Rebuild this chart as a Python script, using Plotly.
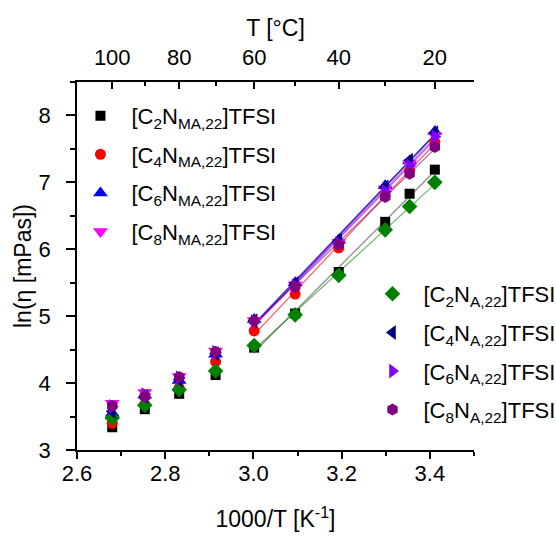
import numpy as np
import plotly.graph_objects as go

# Temperatures (°C) of the measurements
temp_c = [100, 90, 80, 70, 60, 50, 40, 30, 25, 20]
inv_t = [1000.0 / (t + 273.15) for t in temp_c]

names = [
    "[C<sub>2</sub>N<sub>MA,22</sub>]TFSI",
    "[C<sub>4</sub>N<sub>MA,22</sub>]TFSI",
    "[C<sub>6</sub>N<sub>MA,22</sub>]TFSI",
    "[C<sub>8</sub>N<sub>MA,22</sub>]TFSI",
    "[C<sub>2</sub>N<sub>A,22</sub>]TFSI",
    "[C<sub>4</sub>N<sub>A,22</sub>]TFSI",
    "[C<sub>6</sub>N<sub>A,22</sub>]TFSI",
    "[C<sub>8</sub>N<sub>A,22</sub>]TFSI",
]

c2_nma = [3.34, 3.61, 3.84, 4.12, 4.53, 5.04, 5.66, 6.41, 6.83, 7.19]
c4_nma = [3.40, 3.68, 3.93, 4.32, 4.78, 5.33, 6.02, 6.80, 7.18, 7.60]
c6_nma = [3.55, 3.82, 4.04, 4.43, 4.95, 5.50, 6.14, 6.95, 7.32, 7.76]
c8_nma = [3.70, 3.86, 4.10, 4.48, 4.93, 5.47, 6.10, 6.90, 7.28, 7.70]
c2_na = [3.48, 3.67, 3.90, 4.18, 4.56, 5.02, 5.61, 6.29, 6.64, 7.00]
c4_na = [3.58, 3.80, 4.05, 4.44, 4.93, 5.49, 6.13, 6.93, 7.33, 7.74]
c6_na = [3.65, 3.83, 4.08, 4.46, 4.92, 5.45, 6.09, 6.86, 7.25, 7.68]
c8_na = [3.66, 3.80, 4.09, 4.47, 4.93, 5.44, 6.07, 6.78, 7.13, 7.53]

series = [c2_nma, c4_nma, c6_nma, c8_nma, c2_na, c4_na, c6_na, c8_na]
colors = ["#000000", "#ff0000", "#0000ff", "#ff00ff",
          "#008000", "#000080", "#8000ff", "#800080"]
symbols = ["square", "circle", "triangle-up", "triangle-down",
           "diamond", "triangle-left", "triangle-right", "hexagon"]
sizes = [10, 11, 13, 13, 12, 13, 13, 12]
line_colors = ["rgba(0,0,0,0.45)", "rgba(255,0,0,0.6)", "rgba(0,0,255,0.7)",
               "rgba(255,0,255,0.7)", "rgba(0,128,0,0.55)", "rgba(0,0,128,0.6)",
               "rgba(128,0,255,0.6)", "rgba(128,0,128,0.6)"]

top_major = [100, 80, 60, 40, 20]
top_minor = [90, 70, 50, 30]

FONT = "Liberation Sans, Arial, sans-serif"

fig = go.Figure()

# fitted lines (60 °C .. 20 °C)
fit_x = np.array(inv_t[4:])
for ys, lc in zip(series, line_colors):
    k, b = np.polyfit(fit_x, np.array(ys[4:]), 1)
    xx = [fit_x.min(), fit_x.max()]
    fig.add_trace(go.Scatter(x=xx, y=[k * v + b for v in xx], mode="lines",
                             line=dict(color=lc, width=1.3), showlegend=False,
                             hoverinfo="skip"))

for i, (ys, nm, col, sym, sz) in enumerate(zip(series, names, colors, symbols, sizes)):
    fig.add_trace(go.Scatter(
        x=inv_t, y=ys, mode="markers", name=nm,
        marker=dict(symbol=sym, color=col, size=sz, line=dict(width=0)),
        legend="legend" if i < 4 else "legend2",
        legendgroup=f"g{i}",
    ))

# invisible trace to activate the top axis
top_pos = [1000.0 / (t + 273.15) for t in top_major]
fig.add_trace(go.Scatter(x=top_pos, y=[5] * len(top_pos), xaxis="x2", mode="markers",
                         marker=dict(opacity=0), showlegend=False, hoverinfo="skip"))

legend_common = dict(font=dict(family=FONT, size=22, color="black"),
                     bgcolor="rgba(0,0,0,0)", tracegroupgap=7, itemwidth=52,
                     xanchor="left", yanchor="top", itemsizing="trace")

fig.update_layout(
    template="none",
    width=556, height=536,
    margin=dict(l=77, r=82, t=82, b=86, autoexpand=False),
    paper_bgcolor="white", plot_bgcolor="white",
    font=dict(family=FONT, size=22, color="black"),
    xaxis=dict(range=[2.6, 3.5], tickvals=[2.6, 2.8, 3.0, 3.2, 3.4],
               ticktext=["2.6", "2.8", "3.0", "3.2", "3.4"],
               ticks="outside", ticklen=7, tickwidth=1.5, tickcolor="black",
               ticklabelstandoff=-4,
               minor=dict(tickvals=[2.7, 2.9, 3.1, 3.3, 3.5], ticks="outside",
                          ticklen=4, tickwidth=1.5, tickcolor="black"),
               showline=True, linecolor="black", linewidth=1.5,
               showgrid=False, zeroline=False, automargin=False,
               title=dict(text="1000/T [K<sup>-1</sup>]", standoff=26,
                          font=dict(size=23))),
    xaxis2=dict(overlaying="x", side="top", range=[2.6, 3.5],
                tickvals=top_pos, ticktext=[str(t) for t in top_major],
                ticks="inside", ticklen=7, tickwidth=1.5, tickcolor="black",
                ticklabelstandoff=6,
                minor=dict(tickvals=[1000.0 / (t + 273.15) for t in top_minor],
                           ticks="inside", ticklen=4, tickwidth=1.5, tickcolor="black"),
                showline=True, linecolor="black", linewidth=1.5,
                showgrid=False, zeroline=False, automargin=False,
                title=dict(text="T [°C]", standoff=2, font=dict(size=23))),
    yaxis=dict(range=[3, 8.5], tickvals=[3, 4, 5, 6, 7, 8],
               ticks="outside", ticklen=9, tickwidth=1.5, tickcolor="black",
               ticklabelstandoff=11,
               minor=dict(tickvals=[3.5, 4.5, 5.5, 6.5, 7.5, 8.5], ticks="outside",
                          ticklen=5, tickwidth=1.5, tickcolor="black"),
               showline=True, linecolor="black", linewidth=1.5,
               showgrid=False, zeroline=False, automargin=False,
               title=dict(text="ln(η [mPas])", standoff=1, font=dict(size=23))),
    legend=dict(x=-0.019, y=0.965, **legend_common),
    legend2=dict(x=0.7166, y=0.481, **legend_common),
)

fig.write_html("out.html", config={"displayModeBar": False},
               post_script="document.body.style.margin='0';")
